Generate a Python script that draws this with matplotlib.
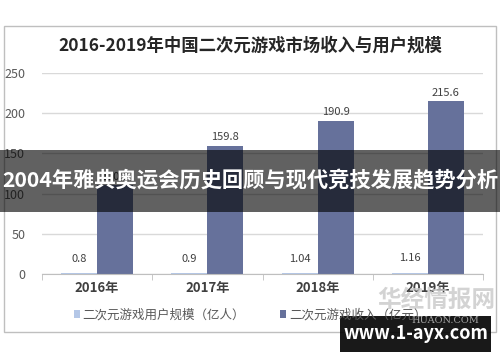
import matplotlib
matplotlib.use('Agg')
import matplotlib.pyplot as plt
import matplotlib.patches as patches
import numpy as np

plt.rcParams['font.family'] = ['Noto Sans CJK SC', 'DejaVu Sans']
plt.rcParams['axes.unicode_minus'] = False

# ==================== 数据 ====================
years = ['2016年', '2017年', '2018年', '2019年']
users = [0.8, 0.9, 1.04, 1.16]          # 亿人
revenue = [110.3, 159.8, 190.9, 215.6]  # 亿元
user_labels = ['0.8', '0.9', '1.04', '1.16']
yticks = [0, 50, 100, 150, 200, 250]

c_user = '#b4c7e7'
c_rev = '#66719b'
grey = '#595959'

fig = plt.figure(figsize=(5, 3.62), dpi=100)
ax = fig.add_axes([0.084, 0.243, 0.882, 0.555])

x = np.arange(len(years))
w = 0.327
b1 = ax.bar(x - w / 2, users, w, color=c_user, label='二次元游戏用户规模（亿人）')
b2 = ax.bar(x + w / 2, revenue, w, color=c_rev, label='二次元游戏收入（亿元）')

for xi, v, s in zip(x, users, user_labels):
    ax.text(xi - w / 2, v + 12, s, ha='center', va='bottom', fontsize=8, color='#404040')
for xi, v in zip(x, revenue):
    ax.text(xi + w / 2, v + 4, f'{v}', ha='center', va='bottom', fontsize=8, color='#404040')

ax.set_xlim(-0.5, 3.5)
ax.set_ylim(0, 250)
ax.set_yticks(yticks)
ax.set_xticks(x)
ax.set_xticklabels(years, fontsize=9.5, color='#404040', fontweight='bold')
ax.set_xticks(np.arange(-0.5, 4, 1), minor=True)
ax.tick_params(axis='x', which='major', length=0, pad=5)
ax.tick_params(axis='x', which='minor', length=4, color='#bfbfbf')
ax.tick_params(axis='y', length=0, labelsize=9, labelcolor=grey, pad=12)
ax.grid(axis='y', color='#d9d9d9', linewidth=1)
ax.set_axisbelow(True)
for sp in ['left', 'right', 'top']:
    ax.spines[sp].set_visible(False)
ax.spines['bottom'].set_color('#bfbfbf')

fig.text(0.5, 0.873, '2016-2019年中国二次元游戏市场收入与用户规模', ha='center', va='center',
         fontsize=12.5, fontweight='bold', color='#262626')

leg = fig.legend(handles=[b1, b2], loc='center', bbox_to_anchor=(0.5, 0.13), ncol=2,
                 frameon=False, fontsize=9, handlelength=0.5, handleheight=0.5,
                 handletextpad=0.2, columnspacing=2.8)
for t in leg.get_texts():
    t.set_color(grey)

# 外框
fig.patches.append(patches.Rectangle((0.008, 0.083), 0.984, 0.845, transform=fig.transFigure,
                                     fill=False, edgecolor='#bfbfbf', linewidth=1))

# 水印
fig.text(0.872, 0.172, '华经情报网', ha='center', va='center', fontsize=17,
         fontweight='bold', color='#c8c8c8', alpha=0.8)
fig.text(0.89, 0.115, 'HUAON.COM', ha='center', va='center', fontsize=7,
         color='#c8c8c8', alpha=0.8, family='DejaVu Serif')
fig.patches.append(patches.Rectangle((0.68, 0.028), 0.302, 0.099, transform=fig.transFigure,
                                     facecolor='black', alpha=0.9, edgecolor='none'))
fig.text(0.831, 0.078, 'www.1-ayx.com', ha='center', va='center', fontsize=13,
         fontweight='bold', color='white')

# 横幅
fig.patches.append(patches.Rectangle((0, 0.414), 1, 0.172, transform=fig.transFigure,
                                     facecolor='black', alpha=0.62, edgecolor='none', zorder=5))
fig.text(0.5, 0.5, '2004年雅典奥运会历史回顾与现代竞技发展趋势分析', ha='center', va='center',
         fontsize=15.3, fontweight='bold', color='white', zorder=6)

fig.savefig('out.png', dpi=100, facecolor='white')
